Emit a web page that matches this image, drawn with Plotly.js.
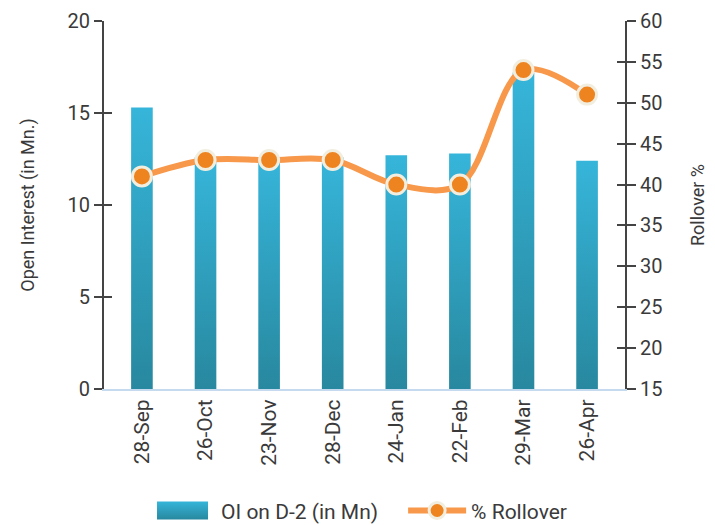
<!DOCTYPE html>
<html><head><meta charset="utf-8">
<script src="https://cdn.plot.ly/plotly-3.0.1.min.js"></script>
<style>body{margin:0}#c{width:715px;height:525px}</style>
</head><body><div id="c"></div>
<script>
const categories = ["28-Sep","26-Oct","23-Nov","28-Dec","24-Jan","22-Feb","29-Mar","26-Apr"];
const oiValues = [15.3, 12.6, 12.6, 12.6, 12.7, 12.8, 17.2, 12.4];
const rolloverValues = [41, 43, 43, 43, 40, 40, 54, 51];
const FONT = "Roboto, sans-serif";

const traces = [
  {type:'bar', x:categories, y:oiValues, name:'OI on D-2 (in Mn)',
   marker:{color:'#2fa3c4'}, yaxis:'y'},
  {type:'scatter', mode:'lines+markers', x:categories, y:rolloverValues, name:'% Rollover',
   yaxis:'y2', line:{color:'#f7984a', width:6, shape:'spline', smoothing:1},
   marker:{color:'#ee8420', size:19, line:{color:'#f2eedf', width:3}}}
];
const tickAxisCommon = {automargin:false, showgrid:false, zeroline:false, showline:false, showticklabels:false,
  ticks:'inside', ticklen:8, tickwidth:2, tickcolor:'#444', dtick:5};
const layout = {
  width:715, height:525, margin:{l:104, r:90, t:21, b:136},
  paper_bgcolor:'#fff', plot_bgcolor:'#fff',
  font:{family:FONT, color:'#3a3a3a', size:16},
  bargap:0.66, showlegend:true,
  legend:{orientation:'h', x:0.477, xanchor:'center', yref:'container', y:0.027, yanchor:'middle',
    font:{size:21}, itemwidth:58, traceorder:'normal', bgcolor:'rgba(0,0,0,0)'},
  xaxis:{automargin:false, tickangle:-90, showgrid:false, showline:true, linecolor:'#c5d9ef', linewidth:2, ticks:'', tickfont:{size:21}},
  yaxis:{automargin:false, range:[0,20], dtick:5, showgrid:false, zeroline:false, showline:true, linecolor:'#444', linewidth:2,
    ticks:'outside', ticklen:8, tickwidth:2, tickcolor:'#444', tickfont:{size:20},
    title:{text:'Open Interest (in Mn.)', font:{size:18}, standoff:28}},
  yaxis2:{automargin:false, range:[15,60], dtick:5, overlaying:'y', side:'right', showgrid:false, zeroline:false, showline:true,
    linecolor:'#444', linewidth:2, ticks:'outside', ticklen:9, tickwidth:2, tickcolor:'#444', tickfont:{size:20},
    title:{text:'Rollover %', font:{size:18}, standoff:30}},
  yaxis3:Object.assign({overlaying:'y', side:'left', range:[0,20]}, tickAxisCommon),
  yaxis4:Object.assign({overlaying:'y', side:'right', range:[15,60], ticklen:9}, tickAxisCommon)
};
// invisible helper traces so the crossing inner tick axes are drawn
traces.push({type:'scatter', x:[categories[0]], y:[0], yaxis:'y3', mode:'none', showlegend:false, hoverinfo:'skip'});
traces.push({type:'scatter', x:[categories[0]], y:[15], yaxis:'y4', mode:'none', showlegend:false, hoverinfo:'skip'});

Plotly.newPlot('c', traces, layout, {displayModeBar:false}).then(function(gd){
  const svg = gd.querySelector('svg.main-svg');
  const ns = 'http://www.w3.org/2000/svg';
  let defs = svg.querySelector('defs');
  const g = document.createElementNS(ns,'linearGradient');
  g.setAttribute('id','barGrad'); g.setAttribute('x1','0'); g.setAttribute('y1','0'); g.setAttribute('x2','0'); g.setAttribute('y2','1');
  [['0','#36b5da'],['1','#28889f']].forEach(function(s){
    const st = document.createElementNS(ns,'stop'); st.setAttribute('offset',s[0]); st.setAttribute('stop-color',s[1]); g.appendChild(st);
  });
  defs.appendChild(g);
  gd.querySelectorAll('.barlayer .point path').forEach(function(p){ p.style.fill='url(#barGrad)'; });
  gd.querySelectorAll('.legend [clip-path]').forEach(function(el){ el.removeAttribute('clip-path'); });
  gd.querySelectorAll('.legend .traces').forEach(function(t,i){
    if(i===0){ t.querySelectorAll('.legendpoints path').forEach(function(p){
      p.setAttribute('d','M-30,-9h51v18h-51z'); p.style.fill='url(#barGrad)'; p.style.stroke='none'; }); }
    if(i===1){
      const tr = t.getAttribute('transform') || '';
      const m = tr.match(/translate\(\s*([-\d.]+)[ ,]+([-\d.]+)\s*\)/);
      if (m) t.setAttribute('transform','translate(' + (parseFloat(m[1]) + 20) + ',' + m[2] + ')');
    }
  });
});
</script></body></html>
